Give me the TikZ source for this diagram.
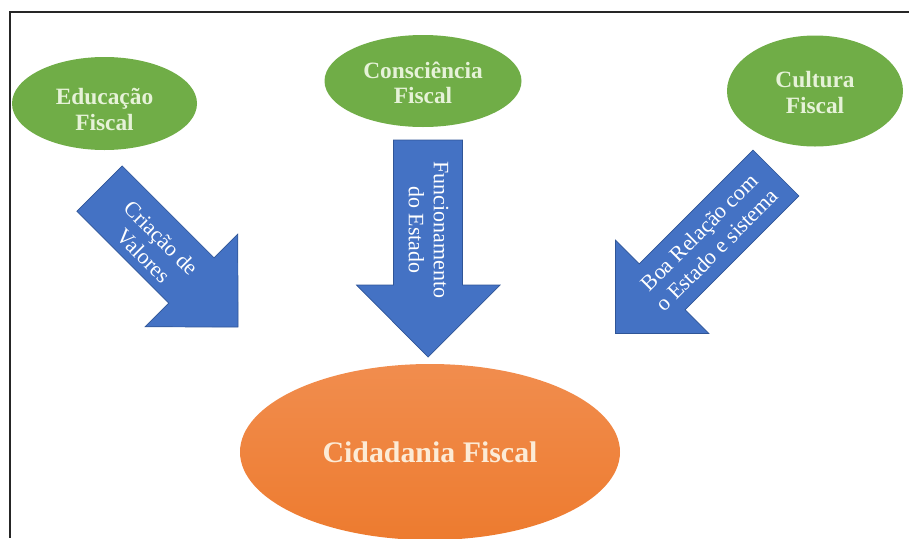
\documentclass[tikz,border=0pt]{standalone}
\usepackage{fontspec}
\setmainfont{Liberation Serif}
\usetikzlibrary{shapes.geometric}

\definecolor{verde}{HTML}{70AD47}
\definecolor{verdetxt}{HTML}{E6F2D8}
\definecolor{laranja}{HTML}{ED7B2F}
\definecolor{laranjaclaro}{HTML}{F18D4E}
\definecolor{laranjatxt}{HTML}{FCEBD6}
\definecolor{azul}{HTML}{4472C4}
\definecolor{azulborda}{HTML}{2F5597}

\tikzset{
  bolha/.style={ellipse, fill=verde, inner sep=0pt},
  bolhatxt/.style={text=verdetxt, inner sep=0pt, align=center,
    font=\fontsize{13.3}{14.6}\selectfont\bfseries},
  seta/.style={fill=azul, draw=azulborda, line width=0.4pt},
  rotulo/.style={text=white, inner sep=0pt, align=center,
    font=\fontsize{12.5}{14.2}\selectfont}
}

\begin{document}
\begin{tikzpicture}
\useasboundingbox (0,0) rectangle (18.18,-10.76);

\coordinate (M1) at (18.18,-0.24);
\coordinate (M2) at (0.2,-0.24);
\coordinate (M3) at (0.2,-10.76);
\draw[line width=1.1pt, black!85] (M1) -- (M2) -- (M3);

\node[bolha, minimum width=3.7cm, minimum height=1.86cm] (edu) at (2.09,-2.07) {};
\node[bolhatxt] (edutxt) at ([yshift=-0.12cm]edu.center) {Educação\\Fiscal};
\node[bolha, minimum width=3.94cm, minimum height=1.84cm] (cons) at (8.46,-1.62) {};
\node[bolhatxt] (constxt) at ([yshift=-0.04cm]cons.center) {Consciência\\Fiscal};
\node[bolha, minimum width=3.52cm, minimum height=2.22cm] (cult) at (16.3,-1.82) {};
\node[bolhatxt] (culttxt) at ([yshift=-0.03cm]cult.center) {Cultura\\Fiscal};
\node[ellipse, minimum width=7.6cm, minimum height=3.52cm, top color=laranjaclaro, bottom color=laranja,
  text=laranjatxt, font=\fontsize{17}{20}\selectfont\bfseries] (cid) at (8.6,-9.04) {Cidadania Fiscal};

% seta da esquerda
\begin{scope}[shift={(1.99,-3.77)}, rotate=-45]
\filldraw[seta] (0,0.64) -- (2.6,0.64) -- (2.6,1.31) -- (3.92,0) -- (2.6,-1.31) -- (2.6,-0.64) -- (0,-0.64) -- cycle;
\node[rotulo, rotate=-45] (criacao) at (1.57,-0.08) {Criação de\\Valores};
\end{scope}

% seta do meio
\filldraw[seta] (7.87,-2.8) -- (9.25,-2.8) -- (9.25,-5.7) -- (10.0,-5.7) -- (8.56,-7.14)
  -- (7.13,-5.7) -- (7.87,-5.7) -- cycle;
\node[rotulo, rotate=-90] (funcionamento) at (8.57,-4.6) {Funcionamento\\do Estado};

% seta da direita
\begin{scope}[shift={(15.52,-3.46)}, rotate=45]
\filldraw[seta] (0,0.65) -- (-3.22,0.65) -- (-3.22,1.32) -- (-4.54,0) -- (-3.22,-1.32) -- (-3.22,-0.65) -- (0,-0.65) -- cycle;
\node[rotulo, rotate=45] (relacao) at (-1.92,0) {Boa Relação com\\o Estado e sistema};
\end{scope}

\end{tikzpicture}
\end{document}
